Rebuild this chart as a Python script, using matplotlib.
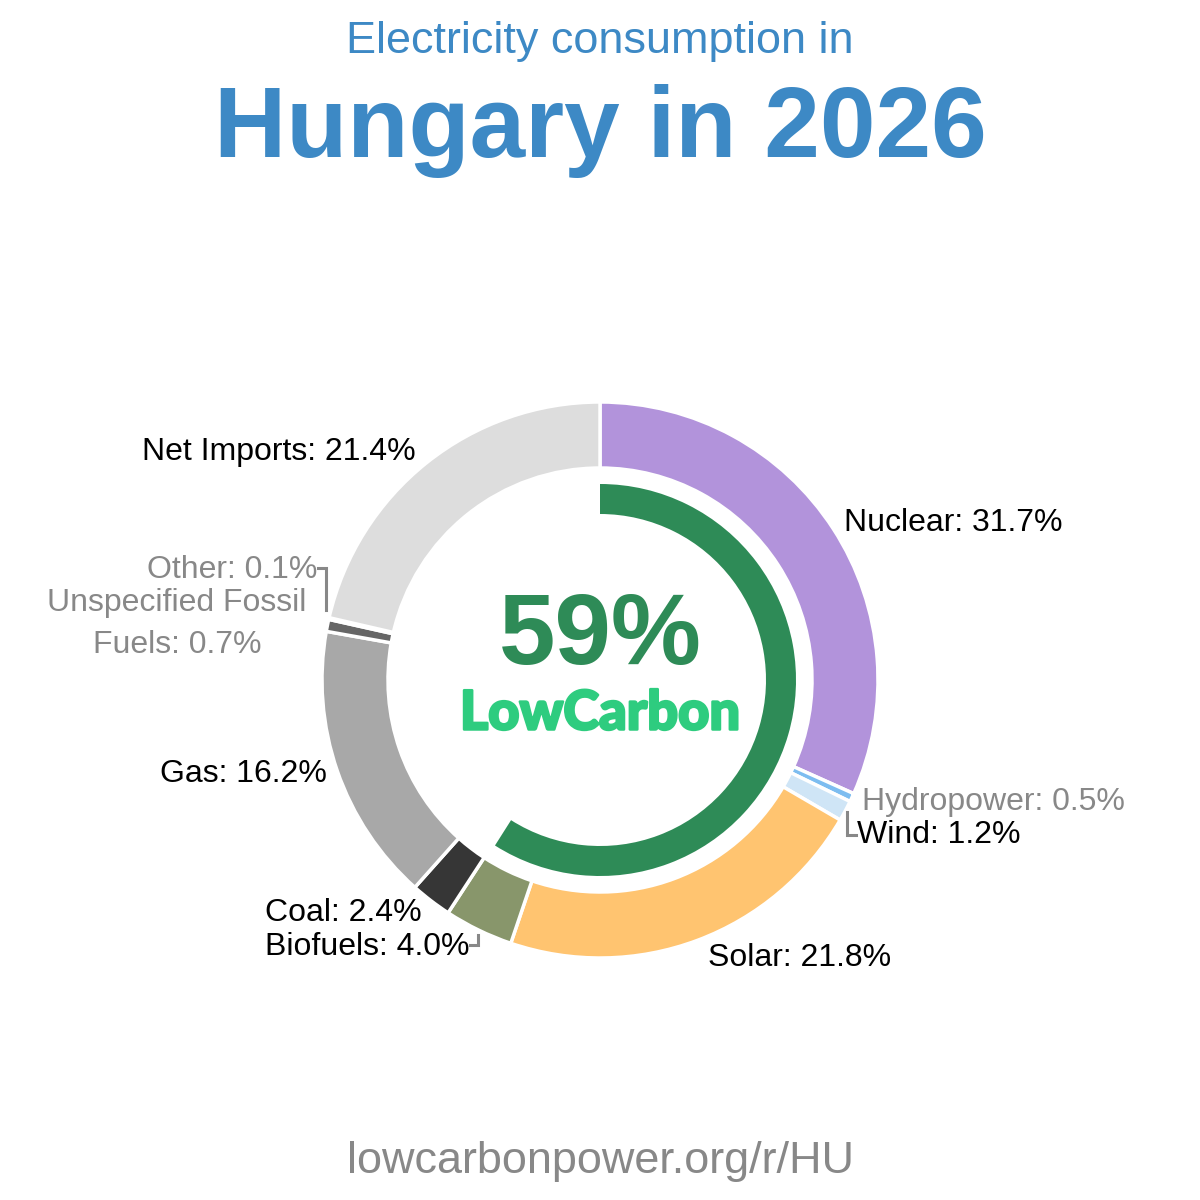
import matplotlib
matplotlib.use('Agg')
import matplotlib.pyplot as plt
import matplotlib.patheffects as pe

plt.rcParams['font.family'] = ['Liberation Sans', 'DejaVu Sans']

# data, clockwise from the top
sources = ['Nuclear', 'Hydropower', 'Wind', 'Solar', 'Biofuels', 'Coal',
           'Gas', 'Unspecified Fossil Fuels', 'Other', 'Net Imports']
shares = [31.7, 0.5, 1.2, 21.8, 4.0, 2.4, 16.2, 0.7, 0.1, 21.4]
colors = ['#b293db', '#7dbdf0', '#cfe5f6', '#ffc470', '#88966b', '#363636',
          '#a8a8a8', '#666666', '#999999', '#dddddd']
low_carbon = 59

BLUE = '#3d89c5'
GREY = '#888888'

fig = plt.figure(figsize=(12, 12), dpi=100)
ax = fig.add_axes([0, 0, 1, 1])

cx, cy = 600, 520

# outer ring
ax.pie(shares, colors=colors, startangle=90, counterclock=False,
       radius=278, center=(cx, cy), frame=True,
       wedgeprops=dict(width=66, edgecolor='white', linewidth=2.5))

# low carbon arc
ax.pie([low_carbon, 100 - low_carbon], colors=['#2e8b57', 'none'],
       startangle=90, counterclock=False, radius=196, center=(cx, cy),
       frame=True, wedgeprops=dict(width=30, linewidth=0))

ax.set_xlim(0, 1200)
ax.set_ylim(0, 1200)
ax.set_aspect('equal')
ax.axis('off')


def py(y):
    return 1200 - y


# titles
ax.text(600, py(42), 'Electricity consumption in', color=BLUE, fontsize=32.4,
        ha='center', va='center')
ax.text(600, py(131), 'Hungary in 2026', color=BLUE, fontsize=72,
        fontweight='bold', ha='center', va='center')
ax.text(600, py(1162), 'lowcarbonpower.org/r/HU', color=GREY, fontsize=32.4,
        ha='center', va='center')

# centre
ax.text(600, py(638), f'{low_carbon}%', color='#2e8b57', fontsize=73,
        fontweight='bold', ha='center', va='center')
ax.text(600, py(714), 'LowCarbon', color='#2ecc7f', fontsize=39,
        fontweight='black', family=['Lato', 'DejaVu Sans'],
        ha='center', va='center',
        path_effects=[pe.Stroke(linewidth=1.8, foreground='#2ecc7f'), pe.Normal()])

# labels
fs = 23
ax.text(416, py(452), 'Net Imports: 21.4%', fontsize=fs, ha='right', va='center')
ax.text(844, py(523), 'Nuclear: 31.7%', fontsize=fs, ha='left', va='center')
ax.text(862, py(802), 'Hydropower: 0.5%', fontsize=fs, color=GREY, ha='left', va='center')
ax.text(857, py(835), 'Wind: 1.2%', fontsize=fs, ha='left', va='center')
ax.text(708, py(958), 'Solar: 21.8%', fontsize=fs, ha='left', va='center')
ax.text(265, py(947), 'Biofuels: 4.0%', fontsize=fs, ha='left', va='center')
ax.text(265, py(913), 'Coal: 2.4%', fontsize=fs, ha='left', va='center')
ax.text(327, py(774), 'Gas: 16.2%', fontsize=fs, ha='right', va='center')
ax.text(317, py(570), 'Other: 0.1%', fontsize=fs, color=GREY, ha='right', va='center')
ax.text(177, py(603), 'Unspecified Fossil', fontsize=fs, color=GREY, ha='center', va='center')
ax.text(177, py(645), 'Fuels: 0.7%', fontsize=fs, color=GREY, ha='center', va='center')

# connector brackets
lk = dict(color=GREY, linewidth=2.2, solid_joinstyle='miter')
ax.plot([318, 326, 326], [py(568), py(568), py(610)], **lk)
ax.plot([847, 847, 856], [py(812), py(835), py(835)], **lk)
ax.plot([470, 478, 478], [py(945), py(945), py(935)], **lk)

fig.savefig('out.png', dpi=100, facecolor='white')
